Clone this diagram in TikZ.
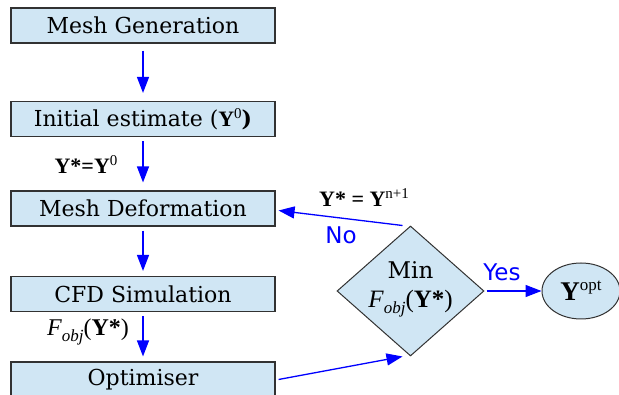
\documentclass[tikz,border=0pt]{standalone}
\usepackage{fontspec}
\setmainfont{DejaVu Serif}
\newfontfamily\lsfont{Liberation Serif}
\newfontfamily\dsans{DejaVu Sans}
\usetikzlibrary{shapes.geometric,arrows.meta,calc}
\definecolor{boxfill}{RGB}{208,230,244}
\definecolor{boxline}{RGB}{50,50,50}
\definecolor{arr}{RGB}{0,0,255}
\newcommand{\bY}{\textbf{\lsfont Y}}
\tikzset{
  stepbox/.style={draw=boxline, fill=boxfill, line width=1.1pt, minimum width=264pt, minimum height=35pt, inner sep=0pt, font=\fontsize{22}{25}\selectfont},
  flow/.style={draw=arr, line width=1.3pt, -{Triangle[length=16pt,width=12pt]}},
  lbl/.style={font=\fontsize{22}{25}\selectfont\lsfont, inner sep=0pt},
  ylbl/.style={font=\fontsize{23}{26}\selectfont\dsans, text=arr, inner sep=0pt}
}
\begin{document}
\begin{tikzpicture}[x=1pt,y=-1pt]
\useasboundingbox (0,0) rectangle (619,395);
\clip (0,0) rectangle (619,395);
\node[stepbox] (gen) at (143,25.5) {Mesh Generation};
\node[stepbox] (init) at (143,119) {Initial estimate (\bY\raisebox{8pt}{\lsfont\fontsize{15}{15}\selectfont 0}\textbf{)}};
\node[stepbox] (def) at (143,208.5) {Mesh Deformation};
\node[stepbox] (cfd) at (143,294) {CFD Simulation};
\node[stepbox] (opt) at (143,379.5) {Optimiser};
\node[draw=boxline, fill=boxfill, line width=1pt, diamond, minimum width=147pt, minimum height=130pt, inner sep=0pt] (dia) at (410.5,291) {};
\node[inner sep=0pt, align=center, font=\fontsize{23}{27}\selectfont] (diatext) at (410.5,289) {Min\\[2pt]{\lsfont\fontsize{25}{27}\selectfont\textit{F}\raisebox{-6pt}{\fontsize{17}{17}\selectfont\textit{obj}}(\textbf{Y*})}};
\node[draw=boxline, fill=boxfill, line width=1pt, ellipse, minimum width=78pt, minimum height=56pt, inner sep=0pt] (yopt) at (581,291) {\fontsize{27}{30}\selectfont\bY\raisebox{10pt}{\lsfont\fontsize{17}{17}\selectfont opt}};
\draw[flow, shorten <=7pt, shorten >=8pt] (gen) -- (init);
\draw[flow, shorten <=4pt, shorten >=8pt] (init) -- (def);
\draw[flow, shorten <=4pt, shorten >=5pt] (def) -- (cfd);
\draw[flow, shorten <=4pt, shorten >=5pt] (cfd) -- (opt);
\draw[flow] ($(dia.north)+(-8,0)$) -- ($(def.east)+(3,2)$);
\draw[flow] ($(opt.east)+(3,0)$) -- ($(dia.south)+(-8,0)$);
\draw[flow] ($(dia.east)+(2,0)$) -- (yopt.west);
\node[lbl] (l1) at (86,165) {\textbf{Y*=Y}\raisebox{8pt}{\fontsize{15}{15}\selectfont 0}};
\node[lbl] (l2) at (88,332) {\fontsize{24}{27}\selectfont\textit{F}\raisebox{-6pt}{\fontsize{17}{17}\selectfont\textit{obj}}(\textbf{Y*})};
\node[lbl] (l3) at (364,198) {\textbf{Y* = Y}\raisebox{8pt}{\fontsize{15}{15}\selectfont n+1}};
\node[ylbl] (no) at (341,235) {No};
\node[ylbl] (yes) at (502,272) {Yes};
\end{tikzpicture}
\end{document}
